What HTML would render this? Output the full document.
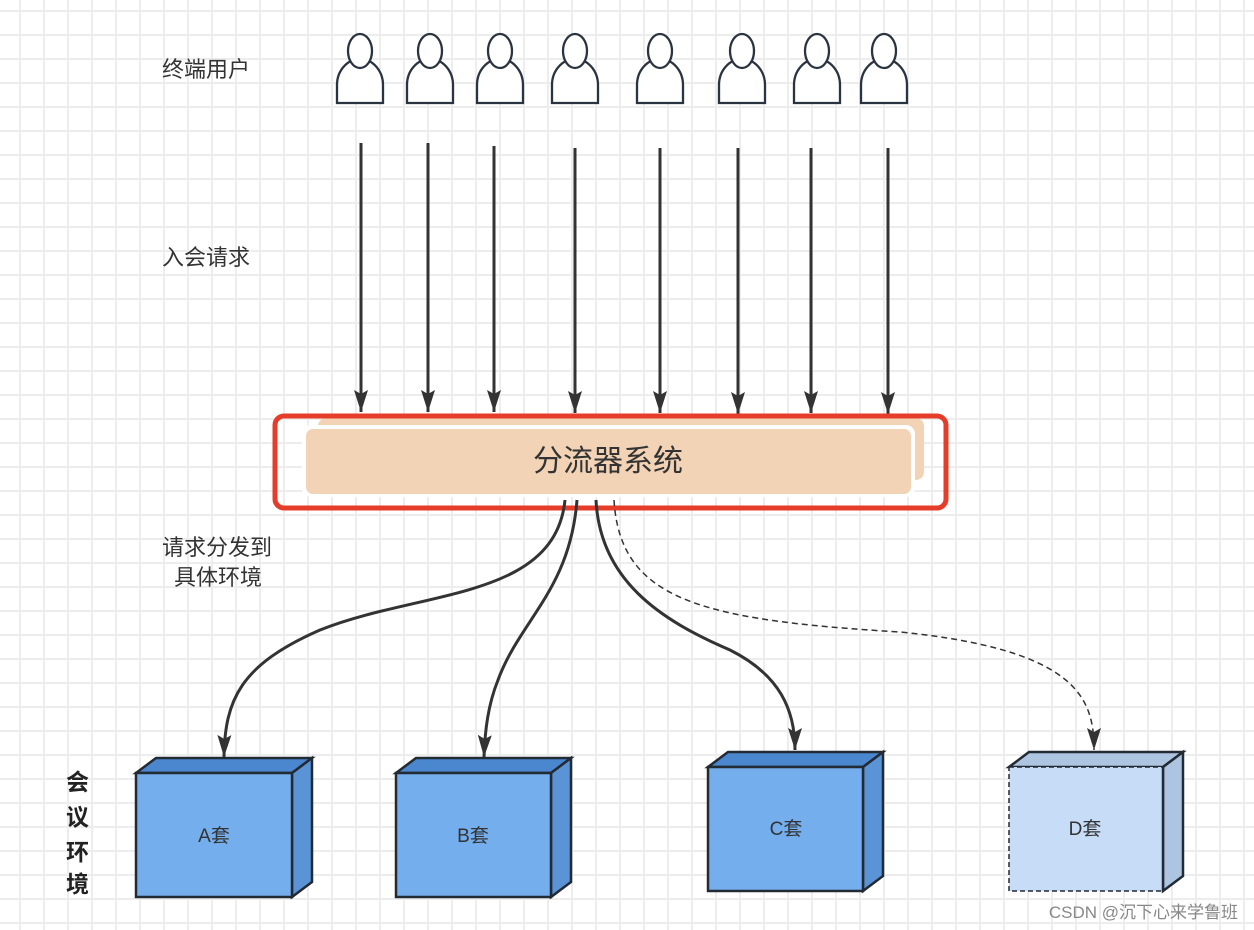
<!DOCTYPE html><html><head><meta charset="utf-8"><style>body{margin:0;background:#fff}svg{display:block}text{font-family:"Liberation Sans","Noto Sans CJK SC",sans-serif}</style></head><body>
<svg width="1254" height="930" xmlns="http://www.w3.org/2000/svg">
<defs>
<pattern id="g" x="19" y="10" width="24" height="24" patternUnits="userSpaceOnUse"><rect x="0" y="0" width="24" height="2" fill="#ededed"/><rect x="0" y="0" width="2" height="24" fill="#ededed"/></pattern>
<marker id="ar2" markerWidth="22" markerHeight="14" refX="22" refY="7" orient="auto" markerUnits="userSpaceOnUse" viewBox="0 0 22 14"><path d="M0 0L22 7L0 14L4 7Z" fill="#333"/></marker>
<g id="p"><path d="M-23 0V-18A23 26 0 0 1 23 -18V0Z" fill="#fff" stroke="#2a3340" stroke-width="2.3"/><ellipse cx="0" cy="-52" rx="12" ry="17" fill="#fff" stroke="#2a3340" stroke-width="2.3"/></g>
</defs>
<rect width="1254" height="930" fill="url(#g)"/>
<g font-size="22" fill="#333"><text x="162" y="77">终端用户</text><text x="162" y="265">入会请求</text><text x="162" y="555">请求分发到</text><text x="174" y="585">具体环境</text></g>
<g font-size="23" fill="#222" font-weight="bold"><text x="66" y="790">会</text><text x="66" y="825">议</text><text x="66" y="860">环</text><text x="66" y="892">境</text></g>
<use href="#p" x="360" y="103"/><use href="#p" x="430" y="103"/><use href="#p" x="500" y="103"/><use href="#p" x="575" y="103"/><use href="#p" x="660" y="103"/><use href="#p" x="742" y="103"/><use href="#p" x="817" y="103"/><use href="#p" x="884" y="103"/>
<g stroke="#333" stroke-width="3" marker-end="url(#ar2)"><path d="M361 143V412"/><path d="M428 143V412"/><path d="M494 146V412"/><path d="M575 148V413"/><path d="M660 148V413"/><path d="M738 148V414"/><path d="M811 148V413"/><path d="M888 148V414"/></g>
<rect x="318" y="418" width="606" height="62" rx="8" fill="#f2d3b6"/>
<rect x="302" y="425" width="613" height="72" rx="9" fill="#fff"/>
<rect x="306" y="429" width="605" height="65" rx="7" fill="#f2d3b6"/>
<text x="608" y="471" font-size="30" fill="#333" text-anchor="middle">分流器系统</text>
<rect x="275" y="416" width="671" height="92" rx="9" fill="none" stroke="#e63c2a" stroke-width="5"/>
<g fill="none" stroke="#333" stroke-width="3"><path d="M565 500C555 600 420 590 320 630C240 665 225 700 224 757" marker-end="url(#ar2)"/><path d="M577 500C570 590 520 620 498 680C488 705 485 730 484 757" marker-end="url(#ar2)"/><path d="M596 500C600 580 660 620 730 650C780 675 795 710 795 750" marker-end="url(#ar2)"/><path d="M614 500C620 600 700 620 900 632C1080 650 1094 700 1094 750" stroke-width="1.5" stroke-dasharray="6 4" marker-end="url(#ar2)"/></g>
<g stroke="#222a33" stroke-width="2.5">
<path d="M136 773L156 758H312L292 773Z" fill="#4b87cf"/><path d="M292 773L312 758V882L292 897Z" fill="#5a94d6"/><rect x="136" y="773" width="156" height="124" fill="#74aeed"/>
<path d="M396 773L416 758H571L551 773Z" fill="#4b87cf"/><path d="M551 773L571 758V882L551 897Z" fill="#5a94d6"/><rect x="396" y="773" width="155" height="124" fill="#74aeed"/>
<path d="M708 767L728 752H883L863 767Z" fill="#4b87cf"/><path d="M863 767L883 752V876L863 891Z" fill="#5a94d6"/><rect x="708" y="767" width="155" height="124" fill="#74aeed"/>
<path d="M1009 767L1029 752H1183L1163 767Z" fill="#aec5e2"/><path d="M1163 767L1183 752V876L1163 891Z" fill="#aec5e2"/><rect x="1009" y="767" width="154" height="124" fill="#c7ddf7" stroke-width="1.5" stroke-dasharray="5 3"/><path d="M1163 767V891" fill="none"/>
</g>
<g font-size="19" fill="#333" text-anchor="middle"><text x="214" y="842">A套</text><text x="473" y="842">B套</text><text x="786" y="835">C套</text><text x="1085" y="835">D套</text></g>
<text x="1238" y="918" font-size="17" fill="#888" text-anchor="end">CSDN @沉下心来学鲁班</text>
</svg></body></html>
